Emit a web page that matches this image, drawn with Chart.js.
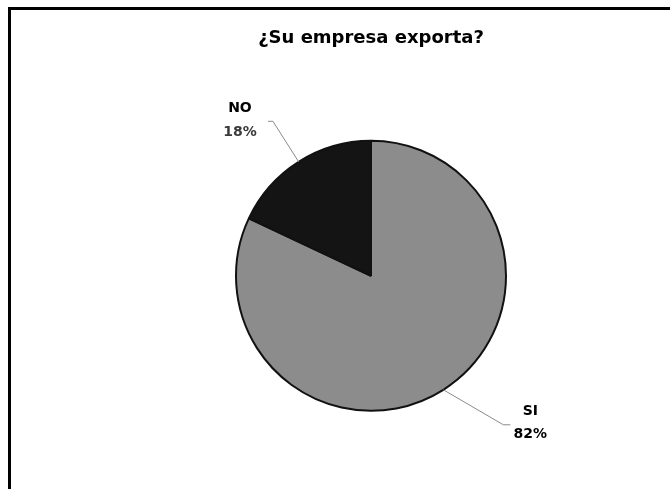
<!DOCTYPE html>
<html>
<head>
<meta charset="utf-8">
<script src="https://cdn.jsdelivr.net/npm/chart.js@4"></script>
<style>
  html, body { margin: 0; padding: 0; background: #fff; }
  #wrap { position: relative; width: 670px; height: 489px; overflow: hidden; background: #fff; }
  #frame {
    position: absolute; left: 8px; top: 7px; width: 700px; height: 479px;
    border-left: 3px solid #000; border-top: 3px solid #000; border-bottom: 1px solid #d4d4d4;
  }
  canvas { position: absolute; left: 0; top: 0; }
</style>
</head>
<body>
<div id="wrap">
  <div id="frame"></div>
  <canvas id="c" width="670" height="489"></canvas>
</div>
<script>
// Survey answers and their shares (percent)
const categories = ['SI', 'NO'];
const percentages = [82, 18];
const sliceColors = ['#8c8c8c', '#141414'];
const chartTitle = '¿Su empresa exporta?';

// Draws each slice's name and percentage next to it with a leader line
const sliceLabels = {
  id: 'sliceLabels',
  afterDatasetsDraw(chart) {
    const ctx = chart.ctx;
    const meta = chart.getDatasetMeta(0);
    meta.data.forEach((arc, i) => {
      const p = arc.getProps(['x', 'y', 'startAngle', 'endAngle', 'outerRadius'], true);
      const mid = (p.startAngle + p.endAngle) / 2;
      const cx = Math.cos(mid), cy = Math.sin(mid);
      const edgeX = p.x + p.outerRadius * cx;
      const edgeY = p.y + p.outerRadius * cy;
      const left = cx < 0;
      let elbowX, elbowY, endX, textX, nameY, pctY;
      if (left) {
        elbowX = p.x + (p.outerRadius + 48) * cx;
        elbowY = p.y + (p.outerRadius + 48) * cy;
        endX = elbowX - 5;
        textX = elbowX - 33;
        nameY = elbowY - 13;
        pctY = elbowY + 11;
      } else {
        elbowX = edgeX + 60;
        elbowY = edgeY + 35;
        endX = elbowX + 7;
        textX = elbowX + 27;
        nameY = elbowY - 13;
        pctY = elbowY + 10;
      }
      ctx.save();
      ctx.strokeStyle = '#8a8a8a';
      ctx.lineWidth = 1;
      ctx.beginPath();
      ctx.moveTo(edgeX, edgeY);
      ctx.lineTo(elbowX, elbowY);
      ctx.lineTo(endX, elbowY);
      ctx.stroke();

      ctx.textAlign = 'center';
      ctx.textBaseline = 'middle';
      ctx.font = 'bold 14px "DejaVu Sans"';
      ctx.fillStyle = '#000';
      ctx.fillText(categories[i], textX, nameY);
      ctx.fillStyle = left ? '#3a3a3a' : '#000';
      ctx.fillText(percentages[i] + '%', textX, pctY);
      ctx.restore();
    });
  }
};

new Chart(document.getElementById('c'), {
  type: 'pie',
  data: {
    labels: categories,
    datasets: [{
      data: percentages,
      backgroundColor: sliceColors,
      borderColor: '#111',
      borderWidth: 2,
      radius: 135
    }]
  },
  options: {
    responsive: false,
    animation: false,
    rotation: 0,
    layout: { padding: { left: 72, right: 0, top: 0, bottom: 0 } },
    plugins: {
      legend: { display: false },
      tooltip: { enabled: false },
      title: {
        display: true,
        text: chartTitle,
        color: '#000',
        font: { family: 'DejaVu Sans', size: 18, weight: 'bold' },
        padding: { top: 28, bottom: 13 }
      }
    }
  },
  plugins: [sliceLabels]
});
</script>
</body>
</html>
